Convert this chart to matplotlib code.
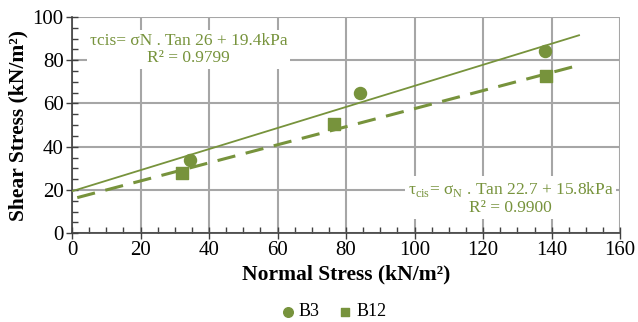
import numpy as np
import matplotlib.pyplot as plt
from matplotlib.ticker import MultipleLocator

plt.rcParams['font.family'] = ['Liberation Serif', 'DejaVu Serif']
plt.rcParams['mathtext.fontset'] = 'custom'
plt.rcParams['mathtext.rm'] = 'Liberation Serif'

green = '#77933C'

# data
b3_x = [34.5, 84, 138]
b3_y = [34, 65, 84.5]
b12_x = [32, 76.5, 138.5]
b12_y = [28, 50.5, 72.5]

# fitted lines
b3_c, b3_phi = 19.4, 26
b12_c, b12_phi = 15.8, 22.7
fit_x = [0, 148]
fit12_x = [1.5, 148.5]

fig = plt.figure(figsize=(6.38, 3.22), dpi=100)
ax = fig.add_axes([0.113, 0.276, 0.859, 0.671])

xs = np.array(fit_x)
ax.plot(xs, b3_c + np.tan(np.radians(b3_phi)) * xs, color=green, lw=1.3, zorder=3)
xs = np.array(fit12_x)
ax.plot(xs, b12_c + np.tan(np.radians(b12_phi)) * xs, color=green, lw=2.2,
        ls=(0, (6, 3.5)), zorder=3)

ax.scatter(b3_x, b3_y, s=75, marker='o', color=green, label='B3', zorder=4)
ax.scatter(b12_x, b12_y, s=65, marker='s', color=green, label='B12', zorder=4)

ax.set_xlim(0, 160)
ax.set_ylim(0, 100)
ax.xaxis.set_major_locator(MultipleLocator(20))
ax.yaxis.set_major_locator(MultipleLocator(20))
ax.xaxis.set_minor_locator(MultipleLocator(5))
ax.yaxis.set_minor_locator(MultipleLocator(5))
ax.grid(True, which='major', color='#A6A6A6', lw=1.5, zorder=0)
ax.set_axisbelow(True)
for s in ['top', 'right']:
    ax.spines[s].set_visible(False)
for s in ['left', 'bottom']:
    ax.spines[s].set_color('#404040')
    ax.spines[s].set_linewidth(1.2)
ax.tick_params(which='major', direction='inout', length=8, width=1, color='#404040',
               labelsize=15, pad=2)
ax.tick_params(which='minor', direction='in', length=4, width=1, color='#404040')

ax.set_xlabel('Normal Stress (kN/m²)', fontsize=15.5, fontweight='bold', labelpad=3)
ax.set_ylabel('Shear Stress (kN/m²)', fontsize=15.5, fontweight='bold', labelpad=3)

box = dict(facecolor='white', edgecolor='none', pad=2)
ax.text(34, 85, 'τcis= σN . Tan 26 + 19.4kPa\nR² = 0.9799', color=green,
        fontsize=12.5, ha='center', va='center', linespacing=1.15, bbox=box, zorder=2)
ax.text(128, 16.3, 'τ$_{\\mathrm{cis}}$= σ$_{\\mathrm{N}}$ . Tan 22.7 + 15.8kPa\nR² = 0.9900',
        color=green, fontsize=12.5, ha='center', va='center', linespacing=1.15,
        bbox=box, zorder=2)

fig.legend(loc='lower center', bbox_to_anchor=(0.52, -0.045), ncol=2, frameon=False,
           fontsize=13, handletextpad=0.0, columnspacing=0.8, markerscale=0.8,
           handlelength=1.2)

fig.savefig('out.png', dpi=100)
